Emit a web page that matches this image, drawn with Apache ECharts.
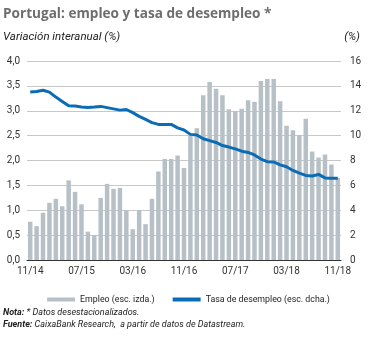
<!DOCTYPE html>
<html><head><meta charset="utf-8">
<script src="https://cdn.jsdelivr.net/npm/echarts@6/dist/echarts.min.js"></script>
<style>html,body{margin:0;padding:0;background:#fff}#c{width:377px;height:338px}</style>
</head><body><div id="c"></div>
<script>
// Months 11/14 .. 11/18
const categories = [
 "11/14","12/14","01/15","02/15","03/15","04/15","05/15","06/15","07/15","08/15","09/15","10/15",
 "11/15","12/15","01/16","02/16","03/16","04/16","05/16","06/16","07/16","08/16","09/16","10/16",
 "11/16","12/16","01/17","02/17","03/17","04/17","05/17","06/17","07/17","08/17","09/17","10/17",
 "11/17","12/17","01/18","02/18","03/18","04/18","05/18","06/18","07/18","08/18","09/18","10/18","11/18"];
// Empleo, variación interanual (%) - left axis
const empleo = [0.77,0.68,0.95,1.15,1.23,1.08,1.60,1.37,1.12,0.57,0.50,1.25,
 1.53,1.43,1.45,1.00,0.62,1.00,0.72,1.23,1.78,2.03,2.03,2.10,
 1.85,2.50,2.65,3.31,3.58,3.44,3.31,3.03,2.99,3.04,3.21,3.18,
 3.60,3.64,3.64,3.19,2.70,2.61,2.51,2.84,2.18,2.06,2.12,1.92,1.65];
// Tasa de desempleo (%) - right axis
const desempleo = [13.5,13.55,13.65,13.5,13.1,12.75,12.4,12.38,12.3,12.27,12.3,12.35,
 12.25,12.15,12.05,12.1,11.85,11.55,11.3,11.05,10.9,10.9,10.9,10.62,
 10.45,10.1,10.05,9.75,9.6,9.45,9.2,9.08,8.93,8.75,8.65,8.45,
 8.12,7.9,7.88,7.65,7.5,7.2,6.98,6.8,6.75,6.88,6.6,6.57,6.57];
const leftTicks = {min:0, max:4, interval:0.5};
const rightTicks = {min:0, max:16, interval:2};

const FONT = 'Roboto,"Liberation Sans",sans-serif';
const chart = echarts.init(document.getElementById('c'), null, {renderer:'canvas'});
chart.setOption({
  animation:false,
  title:[
    {text:'Portugal: empleo y tasa de desempleo *', left:3, top:7, padding:0,
     textStyle:{fontFamily:'"Open Sans",sans-serif', fontWeight:'bold', fontSize:13.6, color:'#6d6e70'}},
    {text:'Variación interanual (%)', left:3, top:31, padding:0,
     textStyle:{fontFamily:FONT, fontStyle:'italic', fontWeight:'normal', fontSize:11.5, color:'#222'}},
    {text:'(%)', right:17, top:31, padding:0,
     textStyle:{fontFamily:FONT, fontStyle:'italic', fontWeight:'normal', fontSize:11.5, color:'#222'}},
    {text:'{b|Nota:} * Datos desestacionalizados.', left:3, top:308, padding:0,
     textStyle:{fontFamily:FONT, fontStyle:'italic', fontWeight:'normal', fontSize:9, color:'#222',
       rich:{b:{fontFamily:FONT, fontStyle:'italic', fontWeight:'bold', fontSize:9, color:'#222'}}}},
    {text:'{b|Fuente:} CaixaBank Research,  a partir de datos de Datastream.', left:3, top:320, padding:0,
     textStyle:{fontFamily:FONT, fontStyle:'italic', fontWeight:'normal', fontSize:9, color:'#222',
       rich:{b:{fontFamily:FONT, fontStyle:'italic', fontWeight:'bold', fontSize:9, color:'#222'}}}}
  ],
  legend:{
    top:290, left:'center', itemGap:18, itemWidth:28, itemHeight:4,
    textStyle:{fontFamily:FONT, fontSize:8.8, color:'#222'},
    data:[
      {name:'Empleo (esc. izda.)', icon:'rect'},
      {name:'Tasa de desempleo (esc. dcha.)', icon:'rect', itemStyle:{color:'#0a6cb5'}}
    ]
  },
  grid:{left:27, right:36, top:61, bottom:78},
  xAxis:{
    type:'category', data:categories, boundaryGap:true,
    axisLine:{lineStyle:{color:'#333', width:1}},
    axisTick:{show:false},
    axisLabel:{interval:7, fontFamily:FONT, fontSize:10, color:'#333', margin:6}
  },
  yAxis:[
    {type:'value', min:leftTicks.min, max:leftTicks.max, interval:leftTicks.interval,
     axisLine:{show:false}, axisTick:{show:false},
     splitLine:{lineStyle:{color:'#c8c8c8', width:1}},
     axisLabel:{fontFamily:FONT, fontSize:10, color:'#333', margin:7,
       formatter:v=>v.toFixed(1).replace('.',',')}},
    {type:'value', min:rightTicks.min, max:rightTicks.max, interval:rightTicks.interval,
     axisLine:{show:false}, axisTick:{show:false}, splitLine:{show:false},
     axisLabel:{fontFamily:FONT, fontSize:10, color:'#333', margin:9}}
  ],
  series:[
    {name:'Empleo (esc. izda.)', type:'bar', data:empleo, yAxisIndex:0,
     barCategoryGap:'30%', itemStyle:{color:'#b6c0c6'}},
    {name:'Tasa de desempleo (esc. dcha.)', type:'line', data:desempleo, yAxisIndex:1,
     symbol:'none', smooth:false, lineStyle:{color:'#0a6cb5', width:3}, itemStyle:{color:'#0a6cb5'}}
  ]
});
</script></body></html>
